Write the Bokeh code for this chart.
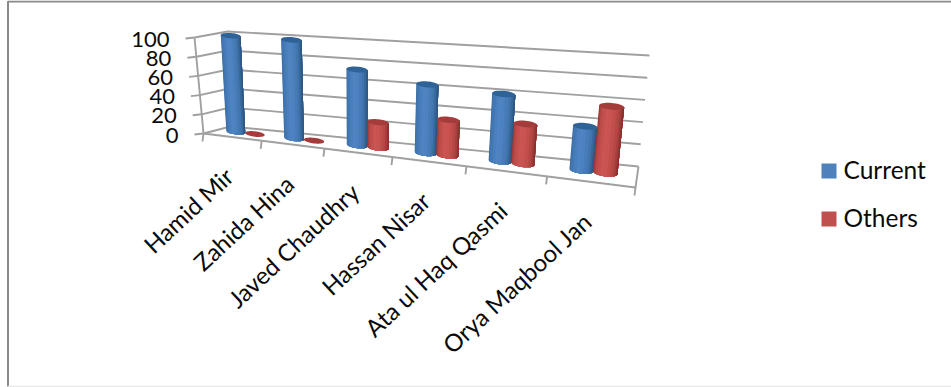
import math
from bokeh.core.properties import value
from bokeh.embed import file_html
from bokeh.models import Range1d
from bokeh.plotting import figure
from bokeh.resources import INLINE

categories = ["Hamid Mir", "Zahida Hina", "Javed Chaudhry", "Hassan Nisar", "Ata ul Haq Qasmi", "Orya Maqbool Jan"]
current = [100, 100, 75, 66, 63, 40]
others = [0, 0, 25, 34, 37, 60]
y_ticks = [0, 20, 40, 60, 80, 100]

FONT = "Lato"
GRID = "#a0a0a0"
GRID_W = 1.9
N = len(categories)

# Corners of the 3D box on the page: floor points and the rise of 100 units above them.
FRONT_L, FRONT_R = (203, 133), (635, 187)
BACK_L, BACK_R = (230, 126), (638, 166)
RISE_FL, RISE_FR = (-9, -96), (13, -114)
RISE_BL, RISE_BR = (-3, -95), (11, -111)
PERSPECTIVE = -0.2223


def lerp(a, b, t):
    return (a[0] + (b[0] - a[0]) * t, a[1] + (b[1] - a[1]) * t)


def along(u):
    """Position along the category axis, foreshortened towards the left."""
    s = u / N
    return s * (1 + PERSPECTIVE) / (1 + PERSPECTIVE * s)


def project(u, depth, v):
    t = along(u)
    floor = lerp(lerp(FRONT_L, FRONT_R, t), lerp(BACK_L, BACK_R, t), depth)
    rise = lerp(lerp(RISE_FL, RISE_FR, t), lerp(RISE_BL, RISE_BR, t), depth)
    return floor[0] + rise[0] * v / 100, floor[1] + rise[1] * v / 100


p = figure(width=951, height=387, output_backend="svg", toolbar_location=None,
           x_range=Range1d(0, 951), y_range=Range1d(387, 0), min_border=0)
p.axis.visible = False
p.grid.visible = False
p.outline_line_color = None

# Outer chart frame
p.line([7.5, 7.5, 951], [386, 1, 1], line_color="#8a8a8a", line_width=2)
p.line([7.5, 951], [386, 386], line_color="#e6e6e6", line_width=1.5)

# Walls: gridlines on the side wall and the back wall
for v in y_ticks:
    a, b, c = project(0, 0, v), project(0, 1, v), project(N, 1, v)
    p.line([a[0], b[0], c[0]], [a[1], b[1], c[1]], line_color=GRID, line_width=GRID_W)
    p.line([a[0], a[0] - 9], [a[1], a[1] + 1], line_color=GRID, line_width=GRID_W)
    p.text([a[0] - 25], [a[1] + 1.5], text=[str(v)], text_font=value(FONT), text_font_size="22px",
           text_align="right", text_baseline="middle", text_color="#0a0a0a")

# Floor edges and category ticks
e2 = project(N, 1, 0)
f0, f1 = project(0, 0, 0), project(N, 0, 0)
top0 = project(0, 0, 100)
p.line([f0[0], f1[0], e2[0]], [f0[1], f1[1], e2[1]], line_color=GRID, line_width=GRID_W)
p.line([top0[0], f0[0]], [top0[1], f0[1]], line_color=GRID, line_width=GRID_W)
for k in range(N + 1):
    q = project(k, 0, 0)
    p.line([q[0], q[0] - 1], [q[1], q[1] + 8], line_color=GRID, line_width=GRID_W)

# Cylinder shading from the left edge to the right edge
BLUE_RAMP = ["#3a6a9e", "#3f74ad", "#4478b4", "#4a7fbe", "#4e84c2", "#4c82c0", "#477cb8", "#4175ad", "#38679a", "#2f5a87", "#2c4f78"]
BLUE_TOP = "#2f6296"
RED_RAMP = ["#8f3533", "#a83f3d", "#b84a47", "#c4504d", "#ca5552", "#c95351", "#c24e4b", "#b54845", "#a33f3c", "#8d3432", "#7d2c2a"]
RED_TOP = "#a33c3a"


def cylinder(u_center, val, ramp, top_color, half, depth=0.52):
    left, right = project(u_center - half, depth, 0), project(u_center + half, depth, 0)
    lt, rt = project(u_center - half, depth, val), project(u_center + half, depth, val)
    ry = (right[0] - left[0]) * 0.14
    steps = len(ramp)
    if val > 0:
        # Each band runs through to the right edge so that no seam shows between bands.
        for i in range(steps):
            xs, ys = [], []
            for j in range(i, steps + 1):
                a = math.pi * j / steps
                s = (1 - math.cos(a)) / 2
                xs.append(lerp(lt, rt, s)[0])
                ys.append(lerp(lt, rt, s)[1])
            for j in range(steps, i - 1, -1):
                a = math.pi * j / steps
                s = (1 - math.cos(a)) / 2
                xs.append(lerp(left, right, s)[0])
                ys.append(lerp(left, right, s)[1] + ry * math.sin(a))
            p.patch(xs, ys, fill_color=ramp[i], line_color=None)
    angles = [2 * math.pi * j / 40 for j in range(40)]
    cx, cy = lerp(lt, rt, 0.5)
    dx, dy = (rt[0] - lt[0]) / 2, (rt[1] - lt[1]) / 2
    p.patch([cx + dx * math.cos(a) for a in angles],
            [cy + dy * math.cos(a) + ry * math.sin(a) for a in angles],
            fill_color=top_color, line_color=None)


for k in range(N):
    # Cylinders thin out slightly in category units as the axis widens to the right
    half = 0.17 - 0.006 * k
    cylinder(k + 0.5 - half, current[k], BLUE_RAMP, BLUE_TOP, half)
    cylinder(k + 0.5 + half, others[k], RED_RAMP, RED_TOP, half)

# Category names, slanted and ending under their group
for k, name in enumerate(categories):
    q = project(k + 0.5, 0, 0)
    p.text([q[0] - 3], [q[1] + 35], text=[name], text_font=value(FONT), text_font_size="24px",
           text_align="right", text_baseline="middle", angle=[43], angle_units="deg", text_color="#0a0a0a")

# Legend
for name, color, yc in [("Current", "#4f81bd", 170.5), ("Others", "#c0504d", 218.5)]:
    p.rect([828.5], [yc], width=15, height=15, fill_color=color, line_color=None)
    p.text([843], [yc - 1.5], text=[name], text_font=value(FONT), text_font_size="24.5px",
           text_align="left", text_baseline="middle", text_color="#0a0a0a")

open("out.html", "w").write(file_html(p, INLINE))
